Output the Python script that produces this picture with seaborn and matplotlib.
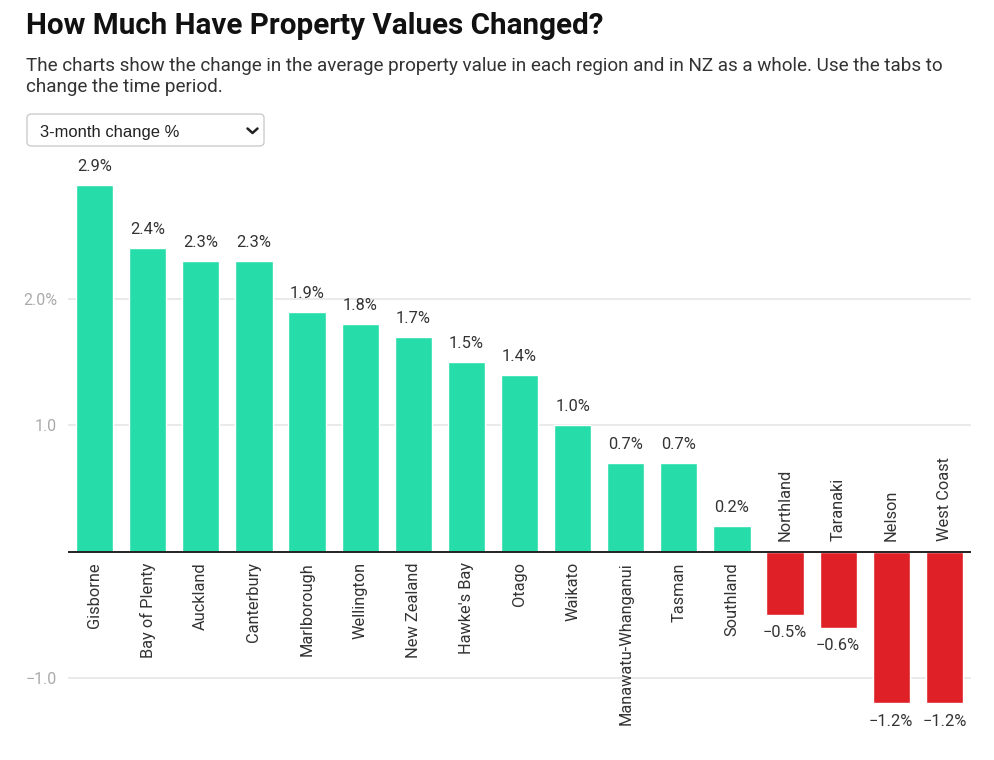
import matplotlib
matplotlib.use("Agg")
import matplotlib.pyplot as plt
from matplotlib.patches import FancyBboxPatch
from matplotlib.lines import Line2D
import seaborn as sns
import pandas as pd

regions = ["Gisborne", "Bay of Plenty", "Auckland", "Canterbury", "Marlborough",
           "Wellington", "New Zealand", "Hawke's Bay", "Otago", "Waikato",
           "Manawatu-Whanganui", "Tasman", "Southland", "Northland", "Taranaki",
           "Nelson", "West Coast"]
changes = [2.9, 2.4, 2.3, 2.3, 1.9, 1.8, 1.7, 1.5, 1.4, 1.0, 0.7, 0.7, 0.2,
           -0.5, -0.6, -1.2, -1.2]
y_ticks = [-1.0, 1.0, 2.0]
y_tick_labels = ["\u22121.0", "1.0", "2.0%"]

title = "How Much Have Property Values Changed?"
subtitle_lines = ["The charts show the change in the average property value in each region and in NZ as a whole. Use the tabs to",
                  "change the time period."]
dropdown_label = "3-month change %"

GREEN = "#26dca8"
RED = "#e02027"

sns.set_theme(style="white")
plt.rcParams["font.family"] = ["Roboto", "DejaVu Sans"]

W, H = 995, 760
fig = plt.figure(figsize=(W / 100, H / 100), dpi=100)

def fx(x):
    return x / W

def fy(y):
    return 1 - y / H

ax_left, ax_right, ax_top, ax_bottom = 68, 971, 160, 740
ax = fig.add_axes([fx(ax_left), fy(ax_bottom), (ax_right - ax_left) / W, (ax_bottom - ax_top) / H])

df = pd.DataFrame({"region": regions, "change": changes})
df["sign"] = ["pos" if v >= 0 else "neg" for v in df["change"]]

sns.barplot(data=df, x="region", y="change", hue="sign",
            palette={"pos": GREEN, "neg": RED}, dodge=False, width=0.7,
            legend=False, ax=ax, saturation=1)

ax.set_xlim(-0.5, len(regions) - 0.5)
ax.set_ylim(-1.49, 3.1)
ax.set_xlabel("")
ax.set_ylabel("")
ax.set_xticks([])
ax.set_yticks(y_ticks)
ax.set_yticklabels(y_tick_labels, color="#aaaaaa", fontsize=11.5)
ax.tick_params(axis="y", length=0, pad=8)
for s in ax.spines.values():
    s.set_visible(False)
for t in y_ticks:
    ax.axhline(t, color="#e4e4e4", lw=1.1, zorder=0)
ax.axhline(0, color="#222222", lw=1.4, zorder=3)

for i, (r, v) in enumerate(zip(regions, changes)):
    lab = f"{v:.1f}%".replace("-", "\u2212")
    if v >= 0:
        ax.annotate(lab, (i, v), xytext=(0, 8), textcoords="offset points",
                    ha="center", va="bottom", fontsize=11.8, color="#333333")
        ax.annotate(r, (i, 0), xytext=(0, -7.5), textcoords="offset points",
                    ha="center", va="top", rotation=90, fontsize=11.8, color="#333333")
    else:
        ax.annotate(lab, (i, v), xytext=(0, -7.5), textcoords="offset points",
                    ha="center", va="top", fontsize=11.8, color="#333333")
        ax.annotate(r, (i, 0), xytext=(0, 7.5), textcoords="offset points",
                    ha="center", va="bottom", rotation=90, fontsize=11.8, color="#333333")

fig.text(fx(26), fy(34.5), title, fontsize=21.3, fontweight="bold", color="#111111",
         ha="left", va="baseline")
fig.text(fx(26), fy(71), subtitle_lines[0], fontsize=13.6, color="#333333",
         ha="left", va="baseline")
fig.text(fx(26), fy(92.5), subtitle_lines[1], fontsize=13.6, color="#333333",
         ha="left", va="baseline")

box = FancyBboxPatch((fx(27), fy(146)), fx(237), 32 / H,
                     boxstyle="round,pad=0,rounding_size=0.005",
                     transform=fig.transFigure, facecolor="white",
                     edgecolor="#cccccc", lw=1)
fig.patches.append(box)
fig.text(fx(40), fy(137), dropdown_label, fontsize=11.9, color="#222222",
         ha="left", va="baseline", family=["Liberation Sans", "DejaVu Sans"])
fig.lines.append(Line2D([fx(247.5), fx(252.5), fx(257.5)], [fy(128.5), fy(133), fy(128.5)],
                        transform=fig.transFigure, color="#222222", lw=1.8))

fig.savefig("out.png", dpi=100)
